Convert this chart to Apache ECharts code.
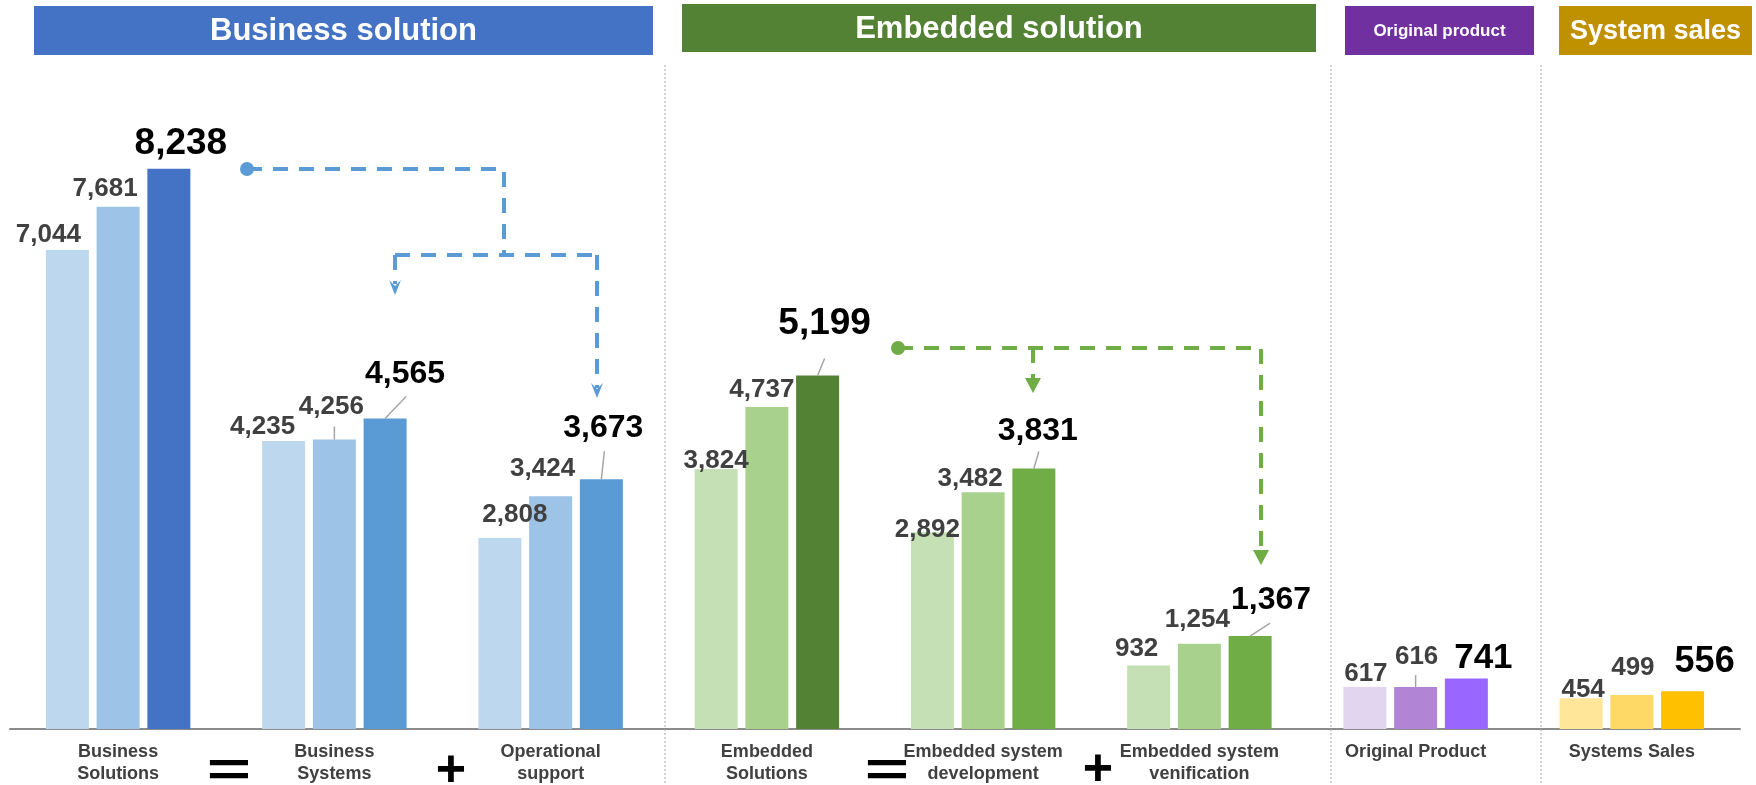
<!DOCTYPE html>
<html><head><meta charset="utf-8">
<script src="https://cdn.jsdelivr.net/npm/echarts@6/dist/echarts.min.js"></script>
<style>html,body{margin:0;padding:0;background:#fff}#c{width:1756px;height:785px}</style>
</head><body><div id="c"></div>
<script>
// ---------------- data ----------------
const categories = ['Business\nSolutions', 'Business\nSystems', 'Operational\nsupport', 'Embedded\nSolutions',
  'Embedded system\ndevelopment', 'Embedded system\nvenification', 'Original Product', 'Systems Sales'];
const seriesNames = ['Period 1', 'Period 2', 'Period 3'];
const valuesP1 = [7044, 4235, 2808, 3824, 2892, 932, 617, 454];
const valuesP2 = [7681, 4256, 3424, 4737, 3482, 1254, 616, 499];
const valuesP3 = [8238, 4565, 3673, 5199, 3831, 1367, 741, 556];
const valueLists = [valuesP1, valuesP2, valuesP3];
const groupTitles = ['Business solution', 'Embedded solution', 'Original product', 'System sales'];

// ---------------- styles ----------------
const FONT = '"Liberation Sans", Arial, sans-serif';
const barColors = [
  ['#BDD7EE', '#9DC3E6', '#4472C4'],
  ['#BDD7EE', '#9DC3E6', '#5B9BD5'],
  ['#BDD7EE', '#9DC3E6', '#5B9BD5'],
  ['#C5E0B4', '#A9D18E', '#548235'],
  ['#C5E0B4', '#A9D18E', '#70AD47'],
  ['#C5E0B4', '#A9D18E', '#70AD47'],
  ['#E2D5F0', '#B284D6', '#9966FF'],
  ['#FFE699', '#FFD966', '#FFC000']
];
// label placement relative to bar top: [dx, gap above bar top]
const labelOffsets = [
  [[-19, 7], [-21, 6], [15, 15], [0, 0], [-5, -6], [-12, 9], [1, 5], [2, 0]],
  [[-13, 10], [-3, 25], [-8, 19], [-5, 9], [-13, 5], [-2, 16], [1, 22], [1, 19]],
  [[12, 14], [20, 34], [2, 41], [7, 40], [4, 27], [21, 26], [17, 9], [22, 18]]
];
const leaderEnds = { '1-1': [0, 13], '2-1': [21, 22], '2-2': [3, 28], '2-3': [7, 17], '2-4': [5, 17], '2-5': [20, 13], '1-6': [0, 12] };
const bigFont = [37, 32, 32, 37, 32, 32, 35, 36];
const smallFont = 26;

const barTops = [[], [], []];
function fsOf(k, i) { return k === 2 ? bigFont[i] : smallFont; }

const series = valueLists.map((vals, k) => ({
  name: seriesNames[k],
  type: 'bar',
  barWidth: 43,
  barGap: '18%',
  data: vals.map((v, i) => ({
    value: v,
    itemStyle: { color: barColors[i][k] },
    label: { fontSize: fsOf(k, i) }
  })),
  label: {
    show: true, position: 'top',
    formatter: p => Number(p.value).toLocaleString('en-US'),
    fontFamily: FONT, fontWeight: 'bold',
    fontSize: k === 2 ? 34 : smallFont,
    color: k === 2 ? '#000000' : '#404040'
  },
  labelLayout: function (p) {
    const r = p.rect;
    const cx = r.x + r.width / 2;
    const top = r.y;
    barTops[k][p.dataIndex] = [cx, top];
    const off = labelOffsets[k][p.dataIndex];
    const fs = fsOf(k, p.dataIndex);
    return { x: cx + off[0], y: top - off[1] + 0.19 * fs, align: 'center', verticalAlign: 'bottom' };
  }
}));

const chart = echarts.init(document.getElementById('c'), null, { renderer: 'canvas' });
const option = {
  animation: false,
  backgroundColor: '#ffffff',
  grid: { left: 10, right: 16, top: 49, bottom: 56, containLabel: false, outerBoundsMode: 'none' },
  xAxis: {
    type: 'category', data: categories,
    axisLine: { lineStyle: { color: '#8C8C8C', width: 2 } },
    axisTick: { show: false },
    splitLine: { show: false },
    axisLabel: { interval: 0, margin: 12, fontFamily: FONT, fontWeight: 'bold', fontSize: 18, lineHeight: 22, color: '#404040' }
  },
  yAxis: { type: 'value', min: 0, max: 10000, show: false, splitLine: { show: false } },
  series: series
};
chart.setOption(option);

// ---------------- annotations ----------------
function header(x, y, w, h, fill, text, fs) {
  return [
    { type: 'rect', shape: { x: x, y: y, width: w, height: h }, style: { fill: fill }, z: 10 },
    { type: 'text', x: x + w / 2, y: y + h / 2 + 1, z: 11,
      style: { text: text, fill: '#ffffff', fontFamily: FONT, fontWeight: 'bold', fontSize: fs, align: 'center', verticalAlign: 'middle' } }
  ];
}
function sep(x) {
  return { type: 'line', shape: { x1: x, y1: 65, x2: x, y2: 785 }, style: { stroke: '#A6A6A6', lineWidth: 1, lineDash: [2, 2] }, z: 1 };
}
function dash(points, color) {
  return { type: 'polyline', shape: { points: points }, style: { stroke: color, lineWidth: 4, lineDash: [15, 11], fill: null }, z: 5 };
}
function chevron(x, tipY, color) {
  return { type: 'polygon', shape: { points: [[x - 6, tipY - 15], [x, tipY - 9], [x + 6, tipY - 15], [x, tipY]] }, style: { fill: color }, z: 6 };
}
function triangle(x, tipY, color) {
  return { type: 'polygon', shape: { points: [[x - 8, tipY - 15], [x + 8, tipY - 15], [x, tipY]] }, style: { fill: color }, z: 6 };
}
function op(text, x, y, fs, sx) {
  return { type: 'text', x: x, y: y, scaleX: sx, z: 10,
    style: { text: text, fill: '#000000', fontFamily: FONT, fontWeight: 'bold', fontSize: fs, align: 'center', verticalAlign: 'middle' } };
}

const BLUE = '#5B9BD5', GREEN = '#70AD47';
const graphics = [].concat(
  header(34, 6, 619, 49, '#4472C4', groupTitles[0], 31),
  header(682, 4, 634, 48, '#548235', groupTitles[1], 31),
  header(1345, 6, 189, 49, '#7030A0', groupTitles[2], 17),
  header(1559, 6, 193, 49, '#BF9000', groupTitles[3], 27),
  [sep(665), sep(1331), sep(1541)],
  [
    dash([[247, 169], [504, 169], [504, 255]], BLUE),
    dash([[395, 255], [597, 255]], BLUE),
    dash([[395, 255], [395, 284]], BLUE),
    dash([[597, 255], [597, 388]], BLUE),
    { type: 'circle', shape: { cx: 247, cy: 169, r: 7 }, style: { fill: BLUE }, z: 6 },
    chevron(395, 295, BLUE),
    chevron(597, 398, BLUE),
    dash([[898, 348], [1261, 348], [1261, 552]], GREEN),
    dash([[1033, 348], [1033, 380]], GREEN),
    { type: 'circle', shape: { cx: 898, cy: 348, r: 7 }, style: { fill: GREEN }, z: 6 },
    triangle(1033, 393, GREEN),
    triangle(1261, 565, GREEN)
  ],
  [op('=', 229, 772, 49, 1.55), op('+', 451, 772, 52, 1), op('=', 887, 772, 49, 1.55), op('+', 1098, 771, 52, 1)]
);
Object.keys(leaderEnds).forEach(key => {
  const [k, i] = key.split('-').map(Number);
  const t = barTops[k][i];
  if (!t) return;
  const e = leaderEnds[key];
  graphics.push({ type: 'line', shape: { x1: t[0], y1: t[1], x2: t[0] + e[0], y2: t[1] - e[1] }, style: { stroke: '#A6A6A6', lineWidth: 1.5 }, z: 4 });
});
chart.setOption({ graphic: graphics });
</script></body></html>
